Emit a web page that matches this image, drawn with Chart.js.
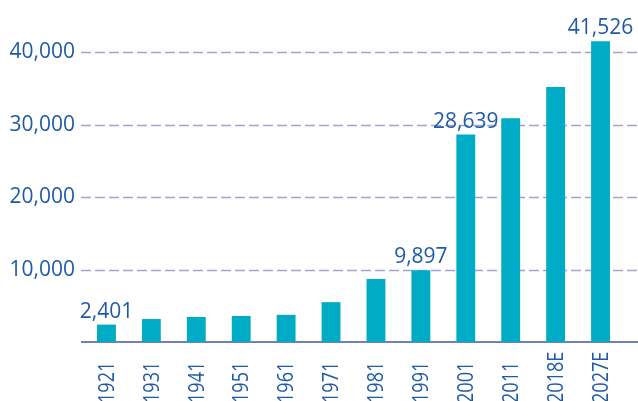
<!DOCTYPE html>
<html>
<head>
<meta charset="utf-8">
<script src="https://cdn.jsdelivr.net/npm/chart.js@4"></script>
<style>
  html, body { margin: 0; padding: 0; background: #fff; overflow: hidden; }
  body { width: 638px; height: 401px; }
  #wrap { position: relative; width: 638px; height: 450px; }
</style>
</head>
<body>
<div id="wrap"><canvas id="pop-chart" width="638" height="450"></canvas></div>
<script>
  // Données
  const categories = ['1921', '1931', '1941', '1951', '1961', '1971', '1981', '1991', '2001', '2011', '2018E', '2027E'];
  const values = [2401, 3170, 3450, 3600, 3750, 5500, 8700, 9897, 28639, 30900, 35200, 41526];
  const labelledBars = ['1921', '1991', '2001', '2027E'];
  const yTicks = [10000, 20000, 30000, 40000];

  const textColor = '#1f5ba6';
  const barColor = '#00abc6';
  const fontFamily = '"Open Sans", "Noto Sans", sans-serif';

  // Grille pointillée + ligne de base, sur toute la largeur
  const gridPlugin = {
    id: 'gridLines',
    beforeDatasetsDraw(chart) {
      const ctx = chart.ctx;
      const y = chart.scales.y;
      ctx.save();
      ctx.lineWidth = 1.5;
      ctx.strokeStyle = '#a3a3d4';
      ctx.setLineDash([10, 4]);
      yTicks.forEach(v => {
        const py = Math.round(y.getPixelForValue(v)) + 0.5;
        ctx.beginPath();
        ctx.moveTo(81, py);
        ctx.lineTo(chart.width, py);
        ctx.stroke();
      });
      ctx.setLineDash([]);
      ctx.lineWidth = 2;
      ctx.strokeStyle = '#7282b6';
      const py0 = y.getPixelForValue(0);
      ctx.beginPath();
      ctx.moveTo(81, py0);
      ctx.lineTo(chart.width, py0);
      ctx.stroke();
      ctx.restore();
    }
  };

  // Étiquettes de valeurs et années verticales
  const labelPlugin = {
    id: 'labels',
    afterDraw(chart) {
      const ctx = chart.ctx;
      const meta = chart.getDatasetMeta(0);
      const x = chart.scales.x;
      ctx.save();
      ctx.fillStyle = textColor;
      ctx.font = '21px ' + fontFamily;
      ctx.textAlign = 'center';
      ctx.textBaseline = 'alphabetic';
      categories.forEach((c, i) => {
        if (labelledBars.includes(c)) {
          const bar = meta.data[i];
          ctx.fillText(values[i].toLocaleString('en-US'), bar.x, bar.y - 7);
        }
      });
      // années écrites de bas en haut, un peu condensées
      ctx.font = '22px ' + fontFamily;
      ctx.textAlign = 'left';
      ctx.textBaseline = 'middle';
      categories.forEach((c, i) => {
        ctx.save();
        ctx.translate(x.getPixelForValue(i) + 1, 403);
        ctx.rotate(-Math.PI / 2);
        ctx.scale(0.82, 1);
        ctx.fillText(c, 0, 0);
        ctx.restore();
      });
      ctx.restore();
    }
  };

  new Chart(document.getElementById('pop-chart'), {
    type: 'bar',
    data: {
      labels: categories,
      datasets: [{
        data: values,
        backgroundColor: barColor,
        hoverBackgroundColor: barColor,
        borderWidth: 0,
        barPercentage: 0.42,
        categoryPercentage: 1
      }]
    },
    options: {
      responsive: false,
      animation: false,
      events: [],
      layout: { padding: { top: 16, right: 15, left: 0, bottom: 0 } },
      scales: {
        x: {
          grid: { display: false },
          border: { display: false },
          ticks: { display: false },
          afterFit(scale) { scale.height = 108; }
        },
        y: {
          min: 0,
          max: 45000,
          grid: { display: false, drawTicks: false },
          border: { display: false },
          afterBuildTicks(scale) { scale.ticks = yTicks.map(v => ({ value: v })); },
          afterFit(scale) {
            scale.width = 84;
            scale.paddingTop = 0;
            scale.paddingBottom = 0;
          },
          ticks: {
            padding: 9,
            color: textColor,
            font: { family: fontFamily, size: 21 },
            callback: v => v.toLocaleString('en-US')
          }
        }
      },
      plugins: {
        legend: { display: false },
        tooltip: { enabled: false }
      }
    },
    plugins: [gridPlugin, labelPlugin]
  });
</script>
</body>
</html>
